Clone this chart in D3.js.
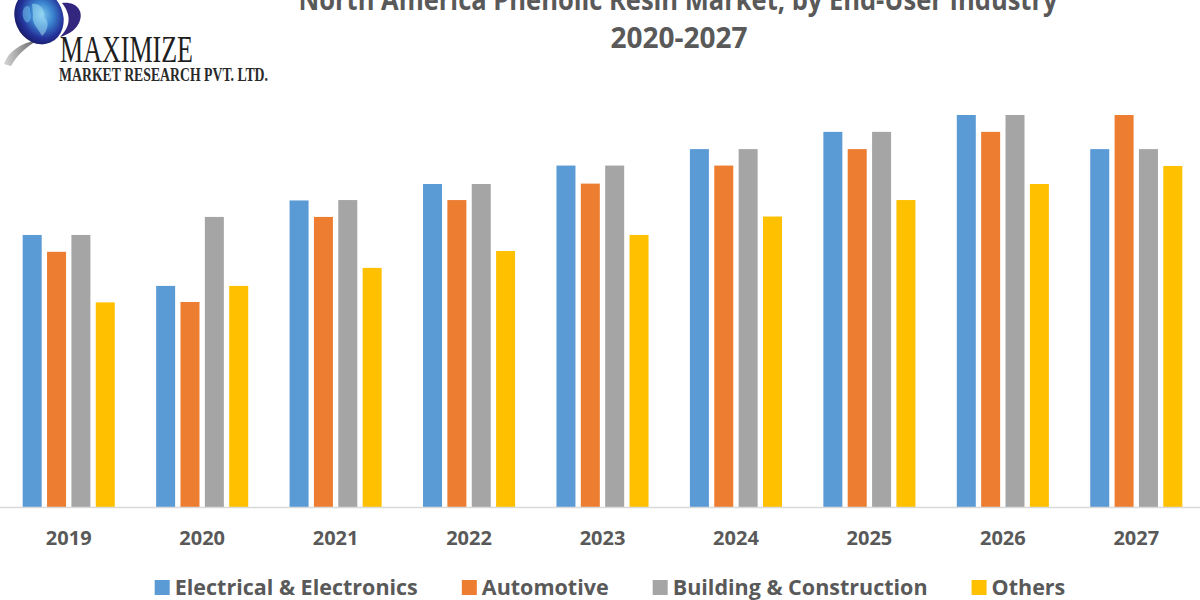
<!DOCTYPE html>
<html>
<head>
<meta charset="utf-8">
<script src="https://cdn.jsdelivr.net/npm/d3@7"></script>
<style>
  html, body { margin: 0; padding: 0; background: #ffffff; }
  svg { display: block; }
</style>
</head>
<body>
<div id="chart"></div>
<script>
// ---- data ----
const years = ["2019", "2020", "2021", "2022", "2023", "2024", "2025", "2026", "2027"];
const seriesNames = ["Electrical & Electronics", "Automotive", "Building & Construction", "Others"];
const electrical   = [69.4, 56.4, 78.2, 82.4, 87.1, 91.3, 95.7, 100.0, 91.3];
const automotive   = [65.1, 52.3, 74.0, 78.3, 82.5, 87.1, 91.3, 95.7, 100.0];
const building     = [69.4, 74.0, 78.3, 82.4, 87.1, 91.3, 95.7, 100.0, 91.3];
const others       = [52.2, 56.4, 61.0, 65.3, 69.4, 74.1, 78.3, 82.4, 87.0];
const seriesColors = ["#5B9BD5", "#ED7D31", "#A5A5A5", "#FFC000"];
const titleLine1 = "North America Phenolic Resin Market, by End-User Industry";
const titleLine2 = "2020-2027";

const seriesValues = [electrical, automotive, building, others];
const table = years.map((y, i) => ({
  year: y,
  values: seriesNames.map((s, j) => ({ key: s, value: seriesValues[j][i] }))
}));

const W = 1200, H = 600;
const svg = d3.select("#chart").append("svg").attr("width", W).attr("height", H);
const textColor = "#595959";

// ---- scales ----
const x0 = d3.scaleBand().domain(years).range([2, 1203]).paddingInner(0.31).paddingOuter(0.155);
const x1 = d3.scaleBand().domain(seriesNames).range([0, x0.bandwidth()]).paddingInner(0.22);
const y = d3.scaleLinear().domain([0, 100]).range([507, 115]);
const color = d3.scaleOrdinal().domain(seriesNames).range(seriesColors);

// ---- bars ----
const groups = svg.append("g").selectAll("g").data(table).join("g")
  .attr("transform", d => `translate(${x0(d.year)},0)`);
groups.selectAll("rect").data(d => d.values).join("rect")
  .attr("x", d => x1(d.key))
  .attr("width", x1.bandwidth())
  .attr("y", d => y(d.value))
  .attr("height", d => y(0) - y(d.value))
  .attr("fill", d => color(d.key));

// ---- x axis ----
const xAxis = svg.append("g").attr("transform", `translate(0,${y(0)})`)
  .call(d3.axisBottom(x0).tickSize(0).tickPadding(38));
xAxis.select(".domain").attr("stroke", "#d9d9d9").attr("stroke-width", 1.5)
  .attr("d", `M0,0.5H1200`);
xAxis.selectAll("text")
  .attr("fill", textColor)
  .style("font-family", "'Open Sans', sans-serif")
  .style("font-weight", "700")
  .style("font-size", "20px")
  .attr("dy", "0");

// ---- title ----
svg.append("text")
  .attr("x", 678).attr("y", 10)
  .attr("text-anchor", "middle")
  .attr("fill", textColor)
  .attr("textLength", 759).attr("lengthAdjust", "spacingAndGlyphs")
  .style("font-family", "'Open Sans', sans-serif")
  .style("font-weight", "700")
  .style("font-size", "28px")
  .text(titleLine1);
svg.append("text")
  .attr("x", 679).attr("y", 48)
  .attr("text-anchor", "middle")
  .attr("fill", textColor)
  .style("font-family", "'Open Sans', sans-serif")
  .style("font-weight", "700")
  .style("font-size", "28px")
  .text(titleLine2);

// ---- legend ----
const legend = svg.append("g");
const gapItem = 44, sq = 15, sqGap = 5;
const items = legend.selectAll("g").data(seriesNames).join("g");
items.append("rect").attr("width", sq).attr("height", sq).attr("y", -15)
  .attr("fill", d => color(d));
items.append("text").attr("x", sq + sqGap).attr("y", 0)
  .attr("fill", textColor)
  .style("font-family", "'Open Sans', sans-serif")
  .style("font-weight", "700")
  .style("font-size", "21.5px")
  .text(d => d);
let cx = 0;
items.each(function () {
  const g = d3.select(this);
  const w = sq + sqGap + g.select("text").node().getComputedTextLength();
  g.attr("transform", `translate(${cx},0)`);
  cx += w + gapItem;
});
const totalW = cx - gapItem;
legend.attr("transform", `translate(${(W - totalW) / 2 + 10},595)`);

// ---- logo ----
const defs = svg.append("defs");
const rg = defs.append("radialGradient").attr("id", "globe").attr("cx", "58%").attr("cy", "48%").attr("r", "62%");
rg.append("stop").attr("offset", "0%").attr("stop-color", "#7fc8ee");
rg.append("stop").attr("offset", "35%").attr("stop-color", "#3b86d0");
rg.append("stop").attr("offset", "70%").attr("stop-color", "#24339a");
rg.append("stop").attr("offset", "100%").attr("stop-color", "#15155a");
const gg = defs.append("linearGradient").attr("id", "swoosh").attr("x1", "0").attr("x2", "1");
gg.append("stop").attr("offset", "0%").attr("stop-color", "#d6d6d6");
gg.append("stop").attr("offset", "100%").attr("stop-color", "#5e5e5e");

const logo = svg.append("g");
logo.append("path")
  .attr("d", "M4,64 C8,52 20,43 38,40 C26,47 17,55 11,66 Z")
  .attr("fill", "url(#swoosh)");
logo.append("ellipse")
  .attr("cx", 39).attr("cy", 17).attr("rx", 24).attr("ry", 28)
  .attr("transform", "rotate(-24,39,17)")
  .attr("fill", "url(#globe)");
logo.append("path")
  .attr("d", "M32,4 C38,2 46,9 44,17 C50,21 48,31 42,36 C38,28 31,23 33,15 Z")
  .attr("fill", "#a8e4f8").attr("opacity", 0.5);
logo.append("path")
  .attr("d", "M24,8 C27,4 31,6 30,12 C33,18 29,24 26,22 C22,18 22,12 24,8 Z")
  .attr("fill", "#6db8ea").attr("opacity", 0.6);
logo.append("path")
  .attr("d", "M62,3 C75,1 85,10 79,23 C75,31 67,35 60,37 C69,28 73,17 62,3 Z")
  .attr("fill", "#33267e");
logo.append("text")
  .attr("x", 60).attr("y", 62)
  .attr("textLength", 133).attr("lengthAdjust", "spacingAndGlyphs")
  .attr("fill", "#1e1e1e")
  .style("font-family", "'Liberation Serif', 'DejaVu Serif', serif")
  .style("font-size", "38px")
  .text("MAXIMIZE");
logo.append("text")
  .attr("x", 59).attr("y", 81)
  .attr("textLength", 209).attr("lengthAdjust", "spacingAndGlyphs")
  .attr("fill", "#2a2a2a")
  .style("font-family", "'Liberation Serif', 'DejaVu Serif', serif")
  .style("font-weight", "700")
  .style("font-size", "19px")
  .text("MARKET RESEARCH PVT. LTD.");
</script>
</body>
</html>
